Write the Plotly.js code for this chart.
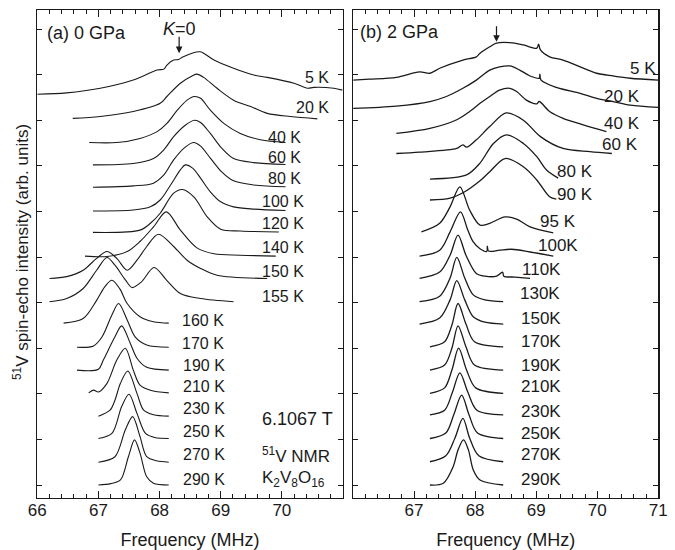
<!DOCTYPE html>
<html>
<head>
<meta charset="utf-8">
<script src="https://cdn.plot.ly/plotly-3.0.1.min.js"></script>
<style>html,body{margin:0;padding:0;background:#fff;}#chart{width:675px;height:550px;}</style>
</head>
<body>
<div id="chart"></div>
<script>
// ---------------- DATA : panel (a) 0 GPa ----------------
const tempsA   = ['5 K','20 K','40 K','60 K','80 K','100 K','120 K','140 K','150 K','155 K','160 K','170 K','190 K','210 K','230 K','250 K','270 K','290 K'];
const offsetsA = [8.6, 8.0, 7.5, 7.0, 6.5, 6.0, 5.5, 5.0, 4.5, 4.0, 3.5, 3.0, 2.5, 2.0, 1.5, 1.0, 0.5, 0];

const fA5   = [66.00,66.48,67.03,67.57,67.96,68.07,68.12,68.23,68.31,68.37,68.53,68.66,68.72,68.89,69.21,69.54,69.76,70.20,70.42,70.52,70.85,70.99];
const iA5   = [-0.03,0.00,0.10,0.28,0.50,0.52,0.61,0.72,0.73,0.78,0.87,0.90,0.87,0.72,0.54,0.39,0.34,0.21,0.10,0.12,0.10,0.06];
const fA20  = [66.58,67.03,67.57,68.01,68.12,68.34,68.53,68.61,68.72,68.94,69.21,69.49,69.76,70.14,70.58];
const iA20  = [0.04,0.08,0.19,0.37,0.52,0.81,0.97,1.01,0.94,0.70,0.44,0.30,0.15,0.08,0.03];
const fA40  = [66.85,67.30,67.68,67.96,68.12,68.29,68.45,68.57,68.67,68.83,69.05,69.32,69.65,70.06];
const iA40  = [0.01,0.01,0.10,0.25,0.43,0.72,0.94,1.02,0.98,0.72,0.43,0.21,0.07,0.01];
const fA60  = [66.91,67.57,67.90,68.07,68.23,68.42,68.57,68.67,68.83,69.02,69.21,69.54,70.06];
const iA60  = [0.02,0.05,0.16,0.35,0.64,0.89,1.00,0.95,0.71,0.38,0.16,0.07,0.03];
const fA80  = [66.91,67.57,67.90,68.07,68.23,68.42,68.56,68.67,68.83,69.02,69.21,69.54,70.06];
const iA80  = [0.03,0.06,0.12,0.30,0.63,0.91,1.01,0.93,0.67,0.36,0.17,0.08,0.04];
const fA100 = [66.91,67.57,67.85,68.01,68.18,68.34,68.42,68.54,68.67,68.83,69.00,69.21,69.54,70.06];
const iA100 = [0.01,0.03,0.10,0.25,0.58,0.91,1.02,0.95,0.73,0.43,0.21,0.10,0.05,0.02];
const fA120 = [66.91,67.68,67.85,68.01,68.23,68.37,68.56,68.78,69.00,69.32,69.95];
const iA120 = [0.04,0.09,0.24,0.46,0.90,0.98,0.82,0.38,0.11,0.07,0.05];
const fA140 = [66.78,67.14,67.47,67.68,67.90,68.11,68.34,68.61,68.89,69.32,69.90];
const iA140 = [0.02,0.01,0.12,0.34,0.66,0.99,0.59,0.20,0.07,0.04,0.02];
const fA150 = [66.20,66.48,66.75,66.97,67.14,67.30,67.47,67.63,67.79,67.98,68.23,68.45,68.67,68.94,69.76];
const iA150 = [0.03,0.07,0.21,0.47,0.62,0.47,0.21,0.43,0.73,1.00,0.73,0.43,0.25,0.10,0.03];
const fA155 = [66.20,66.48,66.75,66.97,67.14,67.27,67.44,67.55,67.70,67.91,68.11,68.34,68.67,69.21];
const iA155 = [0.02,0.09,0.31,0.71,0.99,0.82,0.50,0.33,0.45,0.77,0.50,0.20,0.09,0.02];
const fA160 = [66.43,66.75,66.97,67.10,67.22,67.35,67.47,67.68,67.90,68.15];
const iA160 = [0.05,0.15,0.55,0.84,0.99,0.80,0.48,0.19,0.08,0.05];
const fA170 = [66.65,66.92,67.06,67.22,67.33,67.47,67.60,67.79,68.15];
const iA170 = [0.02,0.05,0.25,0.73,0.98,0.62,0.25,0.07,0.02];
const fA190 = [66.65,67.00,67.08,67.27,67.38,67.52,67.63,67.79,68.15];
const iA190 = [0.02,0.04,0.24,0.75,0.99,0.61,0.28,0.08,0.02];
const fA210 = [66.84,66.92,67.00,67.14,67.30,67.44,67.57,67.68,67.85,68.15];
const iA210 = [0.02,0.08,0.04,0.23,0.74,1.00,0.52,0.19,0.08,0.02];
const fA230 = [67.00,67.19,67.27,67.36,67.48,67.63,67.74,67.90,68.15];
const iA230 = [0.01,0.14,0.36,0.73,1.00,0.51,0.14,0.04,0.01];
const fA250 = [67.00,67.22,67.38,67.50,67.63,67.77,67.92,68.15];
const iA250 = [0.02,0.13,0.72,0.99,0.57,0.13,0.04,0.02];
const fA270 = [67.00,67.27,67.44,67.56,67.68,67.79,67.95,68.15];
const iA270 = [0.00,0.12,0.71,1.00,0.56,0.12,0.03,0.00];
const fA290 = [67.00,67.20,67.36,67.49,67.59,67.68,67.79,67.90,68.15];
const iA290 = [0.00,0.03,0.11,0.62,0.99,0.70,0.18,0.04,0.00];

// ---------------- DATA : panel (b) 2 GPa ----------------
const tempsB   = ['5 K','20 K','40 K','60 K','80 K','90 K','95 K','100K','110K','130K','150K','170K','190K','210K','230K','250K','270K','290K'];
const offsetsB = [8.88, 8.27, 7.72, 7.27, 6.72, 6.25, 5.55, 5.0, 4.5, 4.0, 3.5, 3.0, 2.5, 2.0, 1.5, 1.0, 0.5, 0];

const fB5   = [66.00,66.27,66.71,67.09,67.26,67.42,67.80,68.02,68.08,68.24,68.35,68.57,68.79,69.01,69.04,69.07,69.22,69.44,69.72,69.99,70.26,70.54,71.00];
const iB5   = [0.00,0.02,0.06,0.18,0.15,0.26,0.44,0.51,0.59,0.73,0.81,0.82,0.77,0.70,0.79,0.66,0.51,0.44,0.29,0.15,0.09,0.04,0.00];
const fB20  = [66.00,66.71,67.26,67.53,67.80,68.02,68.24,68.40,68.57,68.73,68.90,69.05,69.06,69.08,69.33,69.72,69.99,70.26,70.54,71.00];
const iB20  = [-0.01,0.04,0.14,0.25,0.43,0.61,0.83,0.90,0.92,0.83,0.70,0.65,0.74,0.61,0.45,0.32,0.21,0.14,0.06,0.01];
const fB40  = [66.71,67.26,67.70,67.91,68.08,68.24,68.40,68.57,68.68,68.84,69.01,69.05,69.22,69.44,69.77,70.15];
const iB40  = [-0.01,0.10,0.29,0.47,0.65,0.80,0.94,0.98,0.91,0.72,0.64,0.69,0.47,0.32,0.18,0.03];
const fB60  = [66.71,67.09,67.70,67.80,67.86,68.02,68.24,68.51,68.79,69.07,69.44,69.88,70.24];
const iB60  = [0.00,0.03,0.11,0.19,0.14,0.30,0.59,0.89,0.73,0.37,0.11,0.04,0.00];
const fB80  = [67.26,67.86,68.08,68.30,68.51,68.79,69.01,69.17,69.36];
const iB80  = [-0.01,0.08,0.34,0.77,0.96,0.77,0.48,0.19,0.01];
const fB90  = [67.26,67.59,67.83,68.08,68.24,68.49,68.79,69.01,69.22,69.33];
const iB90  = [0.00,0.04,0.18,0.42,0.62,0.91,0.73,0.44,0.07,0.02];
const fB95  = [67.12,67.42,67.59,67.75,67.91,68.08,68.24,68.49,68.68,68.90,69.28];
const iB95  = [0.00,0.19,0.55,0.99,0.48,0.15,0.19,0.33,0.28,0.11,-0.02];
const fB100 = [67.09,67.42,67.59,67.76,67.88,67.97,68.08,68.19,68.20,68.22,68.40,68.60,68.90,69.28];
const iB100 = [0.02,0.15,0.55,0.99,0.59,0.33,0.18,0.12,0.24,0.13,0.15,0.17,0.11,0.02];
const fB110 = [67.09,67.42,67.59,67.72,67.85,68.02,68.16,68.35,68.45,68.47,68.65,68.90];
const iB110 = [0.03,0.17,0.54,0.98,0.54,0.14,0.08,0.08,0.17,0.08,0.06,0.03];
const fB130 = [67.09,67.42,67.59,67.70,67.83,67.97,68.16,68.46];
const iB130 = [0.02,0.14,0.54,0.99,0.54,0.17,0.06,0.02];
const fB150 = [67.09,67.42,67.59,67.70,67.83,67.97,68.16,68.46];
const iB150 = [0.03,0.16,0.56,0.98,0.56,0.19,0.07,0.03];
const fB170 = [67.26,67.50,67.62,67.72,67.85,67.99,68.46];
const iB170 = [0.03,0.14,0.51,0.98,0.53,0.14,0.03];
const fB190 = [67.26,67.50,67.62,67.72,67.85,67.99,68.46];
const iB190 = [0.02,0.13,0.50,0.99,0.53,0.13,0.02];
const fB210 = [67.26,67.50,67.62,67.73,67.86,68.01,68.46];
const iB210 = [0.01,0.13,0.52,1.00,0.52,0.13,0.01];
const fB230 = [67.26,67.50,67.63,67.75,67.88,68.03,68.46];
const iB230 = [0.04,0.14,0.54,0.96,0.54,0.14,0.04];
const fB250 = [67.26,67.52,67.65,67.78,67.90,68.04,68.46];
const iB250 = [0.02,0.14,0.54,0.97,0.54,0.14,0.02];
const fB270 = [67.26,67.52,67.67,67.80,67.91,68.06,68.46];
const iB270 = [0.01,0.14,0.53,0.96,0.53,0.14,0.01];
const fB290 = [67.26,67.48,67.64,67.72,67.81,67.89,67.97,68.08,68.46];
const iB290 = [0.00,0.04,0.40,0.77,0.99,0.77,0.33,0.11,0.00];

const freqA = [fA5,fA20,fA40,fA60,fA80,fA100,fA120,fA140,fA150,fA155,fA160,fA170,fA190,fA210,fA230,fA250,fA270,fA290];
const intA  = [iA5,iA20,iA40,iA60,iA80,iA100,iA120,iA140,iA150,iA155,iA160,iA170,iA190,iA210,iA230,iA250,iA270,iA290];
const freqB = [fB5,fB20,fB40,fB60,fB80,fB90,fB95,fB100,fB110,fB130,fB150,fB170,fB190,fB210,fB230,fB250,fB270,fB290];
const intB  = [iB5,iB20,iB40,iB60,iB80,iB90,iB95,iB100,iB110,iB130,iB150,iB170,iB190,iB210,iB230,iB250,iB270,iB290];

// ---------------- LAYOUT / STYLE ----------------
const FONT = '"Liberation Sans", Arial, Helvetica, sans-serif';
const INK = '#1a1a1a';

// label anchor positions (right edge x, centre y) in axis units
const labXA = [70.80,70.80,70.34,70.34,70.34,70.39,70.39,70.39,70.39,70.39,69.08,69.08,69.11,69.11,69.11,69.11,69.11,69.11];
const labYA = [8.93,8.27,7.63,7.19,6.73,6.21,5.74,5.21,4.68,4.13,3.60,3.11,2.61,2.16,1.68,1.17,0.66,0.11];
const labXB = [70.99,70.73,70.73,70.70,69.96,69.96,69.68,69.72,69.44,69.42,69.44,69.44,69.44,69.44,69.44,69.44,69.44,69.44];
const labYB = [9.14,8.52,7.93,7.46,6.87,6.36,5.77,5.26,4.73,4.19,3.66,3.14,2.63,2.16,1.61,1.13,0.66,0.11];

const traces = [];
function addPanel(freqs, ints, offs, names, xa, ya, w){
  freqs.forEach((f,k)=>{
    traces.push({
      x: f, y: ints[k].map(v=>v+offs[k]), xaxis: xa, yaxis: ya,
      type:'scatter', mode:'lines', name: names[k], showlegend:false,
      line:{color:INK, width:w, shape:'spline', smoothing:0.9}, hoverinfo:'skip'
    });
  });
}
addPanel(freqA,intA,offsetsA,tempsA,'x','y',1.1);
addPanel(freqB,intB,offsetsB,tempsB,'x2','y2',1.3);

const annotations = [];
tempsA.forEach((t,k)=>annotations.push({xref:'x',yref:'y',x:labXA[k],y:labYA[k],text:t,showarrow:false,xanchor:'right',yanchor:'middle',font:{family:FONT,size:16,color:INK}}));
tempsB.forEach((t,k)=>annotations.push({xref:'x2',yref:'y2',x:labXB[k],y:labYB[k],text:t,showarrow:false,xanchor:'right',yanchor:'middle',font:{family:FONT,size:17,color:INK}}));
annotations.push(
  {xref:'x',yref:'y',x:66.12,y:9.91,text:'(a) 0 GPa',showarrow:false,xanchor:'left',yanchor:'middle',font:{family:FONT,size:18,color:INK}},
  {xref:'x2',yref:'y2',x:66.08,y:9.94,text:'(b) 2 GPa',showarrow:false,xanchor:'left',yanchor:'middle',font:{family:FONT,size:18,color:INK}},
  {xref:'x',yref:'y',x:68.32,y:9.99,text:'<i>K</i>=0',showarrow:false,xanchor:'center',yanchor:'middle',font:{family:FONT,size:18,color:INK}},
  {xref:'x',yref:'y',x:68.32,y:9.47,ax:0,ay:-18,axref:'pixel',ayref:'pixel',text:'',showarrow:true,arrowhead:2,arrowsize:1.1,arrowwidth:1.2,arrowcolor:INK,standoff:0},
  {xref:'x2',yref:'y2',x:68.35,y:9.72,ax:0,ay:-17,axref:'pixel',ayref:'pixel',text:'',showarrow:true,arrowhead:2,arrowsize:1.1,arrowwidth:1.2,arrowcolor:INK,standoff:0},
  {xref:'x',yref:'y',x:69.65,y:1.44,text:'6.1067 T',showarrow:false,xanchor:'left',yanchor:'middle',font:{family:FONT,size:18,color:INK}},
  {xref:'x',yref:'y',x:69.65,y:0.66,text:'<sup>51</sup>V NMR',showarrow:false,xanchor:'left',yanchor:'middle',font:{family:FONT,size:17,color:INK}},
  {xref:'x',yref:'y',x:69.65,y:0.13,text:'K<sub>2</sub>V<sub>8</sub>O<sub>16</sub>',showarrow:false,xanchor:'left',yanchor:'middle',font:{family:FONT,size:17,color:INK}},
  {xref:'paper',yref:'paper',x:21/675,y:(550-252)/550,text:'<sup>51</sup>V spin-echo intensity (arb. units)',textangle:-90,showarrow:false,xanchor:'center',yanchor:'middle',font:{family:FONT,size:17,color:INK}}
);

function xAxis(domain, range){
  return {domain:domain, range:range, tick0:66, dtick:1, ticks:'inside', ticklen:7, tickwidth:1, tickcolor:INK,
    minor:{tick0:66, dtick:0.2, ticks:'inside', ticklen:4, tickwidth:1, tickcolor:INK},
    mirror:'ticks', showline:true, linecolor:INK, linewidth:1.2, showgrid:false, zeroline:false,
    tickfont:{family:FONT,size:17,color:INK}, ticklabelstandoff:-4, automargin:false,
    title:{text:'Frequency (MHz)', font:{family:FONT,size:18,color:INK}, standoff:15}};
}
function yAxis(anchor){
  return {domain:[52/550, 540/550], range:[-0.285,10.417], tick0:0, dtick:1, ticks:'inside', ticklen:5, tickwidth:1, tickcolor:INK,
    mirror:'ticks', showline:true, linecolor:INK, linewidth:1.2, showgrid:false, zeroline:false, showticklabels:false, anchor:anchor, automargin:false};
}

const layout = {
  width:675, height:550, margin:{l:0,r:0,t:0,b:0}, paper_bgcolor:'#fff', plot_bgcolor:'#fff',
  font:{family:FONT,color:INK}, showlegend:false,
  xaxis: Object.assign(xAxis([37.3/675, 342.7/675],[66,70.995]),{anchor:'y'}),
  yaxis: yAxis('x'),
  xaxis2: Object.assign(xAxis([353.3/675, 658.3/675],[66.005,71]),{anchor:'y2'}),
  yaxis2: yAxis('x2'),
  annotations: annotations
};

Plotly.newPlot('chart', traces, layout, {staticPlot:true, displayModeBar:false});
</script>
</body>
</html>
